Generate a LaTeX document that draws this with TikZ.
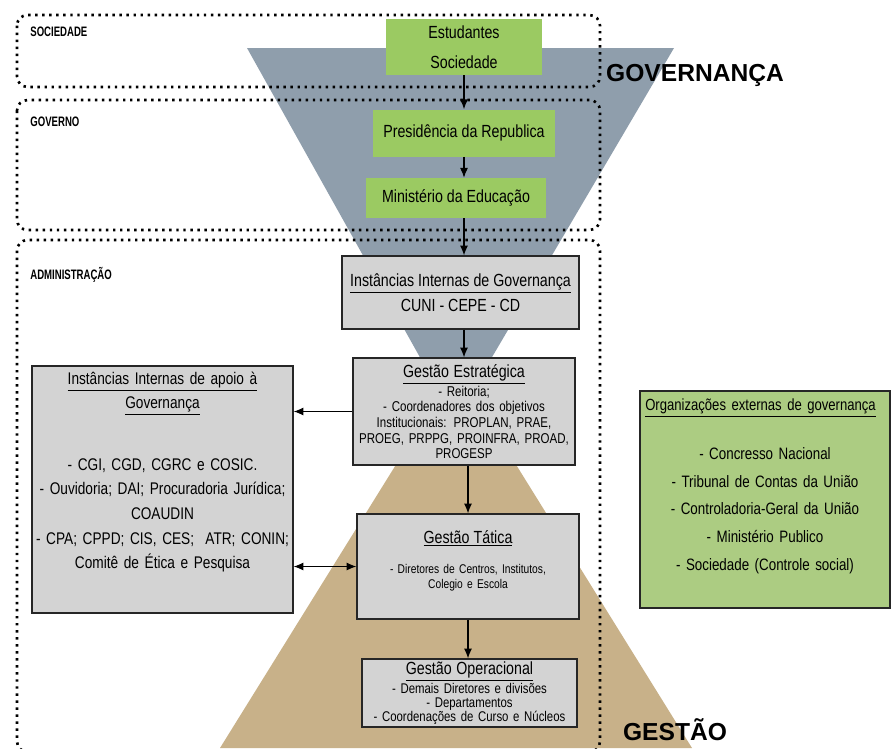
\documentclass[tikz,border=0pt]{standalone}
\usepackage{fontspec}
\setmainfont{Liberation Sans}[FakeStretch=0.81]
\newfontfamily\condfont{Liberation Sans}[FakeStretch=0.70]
\newfontfamily\widefont{Liberation Sans}
\usetikzlibrary{arrows.meta}
\definecolor{funnelblue}{RGB}{143,158,172}
\definecolor{pyramidtan}{RGB}{200,177,137}
\definecolor{topgreen}{RGB}{155,202,98}
\definecolor{extgreen}{RGB}{172,204,130}
\definecolor{boxgray}{RGB}{211,211,211}
\begin{document}
\begin{tikzpicture}[x=0.02cm, y=-0.02cm]
        % Define styles
        \tikzset{
            region/.style={line width=1.5pt, dash pattern=on 1.4pt off 2.6pt, rounded corners=6pt},
            regionlabel/.style={anchor=west, inner sep=0pt, font=\condfont\bfseries\fontsize{7.8}{8}\selectfont},
            greenbox/.style={fill=topgreen, inner sep=0pt, align=center, font=\fontsize{10}{17}\selectfont},
            graybox/.style={draw=black!85, line width=0.8pt, fill=boxgray, inner sep=0pt, align=center},
            extbox/.style={draw=black!85, line width=0.8pt, fill=extgreen, inner sep=0pt, align=center},
            flow/.style={->, >={Latex[length=5.5pt,width=4.5pt]}, line width=0.6pt},
            bigword/.style={inner sep=0pt, font=\widefont\bfseries\fontsize{14}{16}\selectfont}
        }
        \useasboundingbox (0,0) rectangle (892,748);
        \clip (0,0) rectangle (892,748);
        % Funnel (governance) and pyramid (management)
        \fill[funnelblue] (247,48) -- (674,48) -- (455,420) -- cycle;
        \fill[pyramidtan] (456,368) -- (692,748) -- (220,748) -- cycle;
        % Dotted regions
        \draw[region] (17,15) rectangle (600,87);
        \draw[region] (17,100) rectangle (600,230);
        \draw[region] (17,240) rectangle (600,752);
        \node[regionlabel] (lblsoc) at (30,32) {SOCIEDADE};
        \node[regionlabel] (lblgov) at (30,122) {GOVERNO};
        \node[regionlabel] (lbladm) at (30,275) {ADMINISTRAÇÃO};
        % Big words
        \node[bigword] (governanca) at (695,75) {GOVERNANÇA};
        \node[bigword] (gestao) at (675,730) {GESTÃO};
        % Society and government
        \node[greenbox, minimum width=3.14cm, minimum height=1.12cm] (estud) at (464,47) {Estudantes\\Sociedade};
        \node[greenbox, minimum width=3.64cm, minimum height=0.94cm] (presid) at (464,133) {Presidência da Republica};
        \node[greenbox, minimum width=3.6cm, minimum height=0.8cm] (minist) at (456,198) {Ministério da Educação};
        % Administration
        \node[graybox, minimum width=4.74cm, minimum height=1.46cm, font=\fontsize{10}{14.5}\selectfont] (instgov) at (460.5,292.5)
            {\underline{Instâncias Internas de Governança}\\CUNI - CEPE - CD};
        \node[graybox, text width=4.44cm, minimum height=2.14cm, font=\fontsize{8.1}{8.9}\selectfont] (gestest) at (464,411.5)
            {{\fontsize{10}{11}\selectfont\underline{Gestão Estratégica}\par}
            - Reitoria;\\
            - Coordenadores dos objetivos\\
            Institucionais: PROPLAN, PRAE,\\
            PROEG, PRPPG, PROINFRA, PROAD,\\
            PROGESP};
        \node[graybox, text width=5.22cm, minimum height=4.94cm, font=\fontsize{9.6}{14}\selectfont] (apoio) at (162.5,489.5)
            {\underline{Instâncias Internas de apoio à}\\
            \underline{Governança}\\[21pt]
            - CGI, CGD, CGRC e COSIC.\\
            - Ouvidoria; DAI; Procuradoria Jurídica;\\
            COAUDIN\\
            - CPA; CPPD; CIS, CES;\ \ ATR; CONIN;\\
            Comitê de Ética e Pesquisa\rule[-22pt]{0pt}{22pt}};
        \node[graybox, text width=4.44cm, minimum height=2.1cm, font=\fontsize{7.2}{8.5}\selectfont] (tatica) at (468,566.5)
            {{\fontsize{10}{11}\selectfont\underline{Gestão Tática}\par}\vspace{9pt}
            - Diretores de Centros, Institutos,\\
            Colegio e Escola\rule[-8pt]{0pt}{8pt}};
        \node[graybox, text width=4.3cm, minimum height=1.36cm, font=\fontsize{8}{8}\selectfont] (operac) at (469.5,693)
            {{\fontsize{10}{10}\selectfont\underline{Gestão Operacional}\par}
            - Demais Diretores e divisões\\
            - Departamentos\\
            - Coordenações de Curso e Núcleos};
        % External organisations
        \node[extbox, text width=5cm, minimum height=4.34cm, font=\fontsize{9.4}{15.9}\selectfont] (extorg) at (765,499.5)
            {\makebox[\linewidth][l]{\hspace{3pt}{\fontsize{9.2}{12}\selectfont\underline{Organizações externas de governança}}}\\[12pt]
            - Concresso Nacional\\
            - Tribunal de Contas da União\\
            - Controladoria-Geral da União\\
            - Ministério Publico\\
            - Sociedade (Controle social)\rule[-17pt]{0pt}{17pt}};
        % Arrows
        \draw[flow] (estud.south) -- (estud.south |- presid.north);
        \draw[flow] (presid.south) -- (presid.south |- minist.north);
        \draw[flow] (minist.south -| presid.south) -- (presid.south |- instgov.north);
        \draw[flow] (gestest.north |- instgov.south) -- (gestest.north);
        \draw[flow] (gestest.west) -- (gestest.west -| apoio.east);
        \draw[flow] (tatica.north |- gestest.south) -- (tatica.north);
        \draw[flow, <->] (apoio.east |- tatica.west) -- (tatica.west);
        \draw[flow] (tatica.south) -- (tatica.south |- operac.north);
\end{tikzpicture}
\end{document}
